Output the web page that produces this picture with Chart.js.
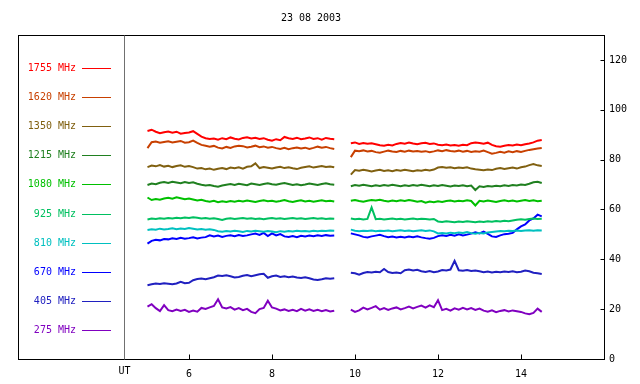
<!DOCTYPE html>
<html>
<head>
<meta charset="utf-8">
<script src="https://cdn.jsdelivr.net/npm/chart.js@4.4.1/dist/chart.umd.min.js"></script>
<style>
  html, body { margin: 0; padding: 0; background: #fff; }
  canvas { display: block; }
</style>
</head>
<body>
<canvas id="chart" width="640" height="384"></canvas>
<script>
// ─── DATA ────────────────────────────────────────────────────
const TITLE = '23 08 2003';
const X_LABEL = 'UT';
const X_TICKS = [6, 8, 10, 12, 14];
const Y_TICKS = [0, 20, 40, 60, 80, 100, 120];

// observation times (hours UT), before and after the break
const T_AM = [5.0, 5.1, 5.2, 5.3, 5.4, 5.5, 5.6, 5.7, 5.8, 5.9,
    6.0, 6.1, 6.2, 6.3, 6.4, 6.5, 6.6, 6.7, 6.8, 6.9,
    7.0, 7.1, 7.2, 7.3, 7.4, 7.5, 7.6, 7.7, 7.8, 7.9,
    8.0, 8.1, 8.2, 8.3, 8.4, 8.5, 8.6, 8.7, 8.8, 8.9,
    9.0, 9.1, 9.2, 9.3, 9.4, 9.5];
const T_PM = [9.9,
    10.0, 10.1, 10.2, 10.3, 10.4, 10.5, 10.6, 10.7, 10.8, 10.9,
    11.0, 11.1, 11.2, 11.3, 11.4, 11.5, 11.6, 11.7, 11.8, 11.9,
    12.0, 12.1, 12.2, 12.3, 12.4, 12.5, 12.6, 12.7, 12.8, 12.9,
    13.0, 13.1, 13.2, 13.3, 13.4, 13.5, 13.6, 13.7, 13.8, 13.9,
    14.0, 14.1, 14.2, 14.3, 14.4, 14.5];

const mhz1755am = [91.5, 92.0, 91.2, 90.6, 91.0, 91.3, 90.8, 91.2, 90.4, 90.7,
    90.9, 91.4, 90.3, 89.2, 88.6, 88.3, 88.5, 88.0, 88.6, 88.2,
    88.9, 88.4, 88.1, 88.7, 89.0, 88.5, 88.8, 88.3, 88.6, 88.0,
    87.6, 88.2, 87.8, 89.1, 88.6, 88.3, 88.8, 88.2, 88.5, 88.9,
    88.3, 88.6, 88.0, 88.7, 88.4, 88.2];
const mhz1755pm = [86.6,
    86.9, 86.3, 86.7, 86.4, 86.6, 86.2, 85.8, 85.6, 86.0, 85.7,
    86.3, 86.7, 86.4, 86.9, 86.5, 86.2, 86.6, 86.8, 86.3, 86.5,
    86.0, 85.8, 86.1, 85.7, 85.9, 85.6, 86.0, 85.8, 86.6, 86.9,
    86.7, 86.4, 86.8, 85.9, 85.4, 85.2, 85.6, 85.9, 85.7, 86.1,
    85.8, 86.2, 86.5, 86.9, 87.6, 87.9];

const mhz1620am = [84.6, 87.0, 87.3, 86.8, 87.1, 87.4, 86.9, 87.2, 87.5, 86.8,
    87.0, 87.6, 86.7, 85.9, 85.6, 85.2, 85.5, 84.8, 84.5, 85.1,
    84.7, 85.3, 85.6, 85.4, 84.9, 85.2, 85.6, 85.0, 85.3, 84.8,
    85.1, 84.6, 84.3, 84.7, 84.2, 84.6, 84.9, 84.5, 84.8, 84.3,
    84.7, 85.2, 84.8, 85.1, 84.6, 84.3];
const mhz1620pm = [81.0,
    83.6, 83.4, 83.7, 83.3, 83.5, 83.0, 82.8, 83.2, 83.6, 83.3,
    83.1, 83.5, 83.2, 83.6, 83.3, 83.5, 83.2, 83.4, 83.0, 83.3,
    83.7, 83.4, 83.8, 83.5, 83.3, 83.6, 83.2, 83.5, 83.1, 83.4,
    83.2, 83.6, 83.0, 82.4, 82.7, 83.1, 82.8, 83.3, 83.0, 83.4,
    83.1, 83.5, 83.9, 84.2, 84.5, 84.7];

const mhz1350am = [77.0, 77.6, 77.3, 77.8, 77.2, 77.5, 77.0, 77.4, 77.7, 77.1,
    77.4, 77.0, 76.4, 76.6, 76.1, 76.4, 75.9, 76.3, 76.6, 76.2,
    76.8, 76.5, 76.9, 76.4, 77.1, 77.3, 78.5, 76.6, 77.0, 76.7,
    76.4, 76.8, 77.1, 76.6, 76.9, 76.5, 76.2, 76.7, 77.0, 77.3,
    76.8, 77.1, 77.4, 77.0, 77.2, 76.9];
const mhz1350pm = [74.0,
    75.8, 75.5, 75.9, 75.6, 75.2, 75.6, 75.9, 75.4, 75.7, 75.3,
    75.8, 75.5, 75.9, 75.6, 75.3, 75.7, 75.5, 75.9, 75.6, 76.0,
    76.8, 77.0, 76.7, 76.9, 76.5, 76.8, 76.6, 76.9, 76.4, 76.1,
    75.9, 75.7, 76.0, 75.8, 76.3, 76.6, 76.2, 76.5, 76.8, 76.4,
    76.9, 77.2, 77.8, 78.2, 77.7, 77.4];

const mhz1215am = [69.8, 70.4, 70.1, 70.7, 71.0, 70.6, 71.1, 70.8, 70.5, 71.0,
    70.6, 70.9, 70.3, 69.9, 69.6, 69.8, 69.4, 69.1, 69.6, 69.9,
    70.2, 69.8, 70.3, 70.0, 69.7, 70.4, 70.1, 69.8, 70.2, 70.5,
    70.1, 69.9, 70.3, 70.6, 70.2, 69.8, 70.1, 69.7, 70.0, 70.4,
    70.1, 69.8, 70.2, 70.5, 70.1, 69.9];
const mhz1215pm = [69.3,
    69.8, 69.5, 69.9, 69.6, 69.3, 69.7, 69.4, 69.8, 69.5, 69.9,
    69.6, 69.3, 69.7, 69.4, 69.8, 69.5, 69.9, 69.6, 69.3, 69.7,
    69.4, 69.8, 69.5, 69.2, 69.6, 69.4, 69.7, 69.3, 69.6, 67.8,
    69.3, 69.0, 69.4, 69.2, 69.5, 69.3, 69.7, 69.4, 69.8, 69.6,
    70.0, 69.8, 70.3, 70.9, 71.1, 70.6];

const mhz1080am = [64.8, 63.8, 64.2, 63.9, 64.4, 64.7, 64.3, 64.9, 64.5, 64.1,
    64.4, 64.0, 63.6, 63.9, 63.4, 63.1, 63.5, 62.9, 63.3, 63.0,
    63.4, 63.1, 63.5, 63.2, 63.6, 63.3, 63.0, 63.4, 63.7, 63.3,
    63.5, 63.1, 63.4, 63.8, 63.3, 63.0, 63.4, 63.7, 63.2, 63.5,
    63.1, 63.4, 63.7, 63.3, 63.5, 63.2];
const mhz1080pm = [63.5,
    63.8, 63.4, 63.1, 63.5, 63.8, 63.6, 63.9, 63.5, 63.2, 63.6,
    63.3, 63.7, 63.4, 63.8, 63.5, 63.1, 63.4, 62.7, 63.2, 62.9,
    63.3, 63.0, 63.4, 63.6, 63.2, 63.5, 63.3, 63.7, 63.4, 61.6,
    63.5, 63.2, 63.6, 63.3, 63.0, 63.4, 63.7, 63.3, 63.6, 63.2,
    63.5, 63.8, 63.4, 63.7, 63.3, 63.5];

const mhz925am = [56.0, 56.4, 56.2, 56.5, 56.3, 56.6, 56.4, 56.7, 56.5, 56.8,
    56.6, 56.9, 56.7, 56.4, 56.6, 56.3, 56.5, 56.2, 55.8, 56.3,
    56.5, 56.2, 56.4, 56.6, 56.3, 56.5, 56.2, 56.4, 56.1, 56.4,
    56.6, 56.3, 56.5, 56.2, 56.4, 56.6, 56.3, 56.5, 56.2, 56.4,
    56.6, 56.3, 56.5, 56.2, 56.4, 56.3];
const mhz925pm = [56.4,
    56.1, 56.3, 56.0, 56.2, 60.8, 56.1, 56.3, 56.0, 56.2, 56.4,
    56.1, 56.3, 56.0, 56.2, 56.4, 56.1, 56.3, 56.2, 56.0, 56.2,
    55.2, 55.0, 55.3, 55.1, 54.9, 55.2, 55.0, 55.3, 55.1, 54.9,
    55.2, 55.0, 55.3, 55.1, 55.4, 55.2, 55.5, 55.3, 55.6, 55.9,
    56.1, 55.9, 56.2, 56.4, 56.2, 56.3];

const mhz810am = [51.8, 52.1, 51.9, 52.3, 52.0, 52.2, 52.5, 52.1, 52.4, 52.2,
    52.6, 52.3, 52.0, 52.2, 51.9, 52.1, 51.8, 51.3, 51.1, 51.4,
    51.2, 51.5, 51.3, 51.0, 51.4, 51.2, 51.5, 51.3, 51.1, 51.4,
    51.2, 50.9, 51.3, 51.1, 51.4, 51.2, 51.5, 51.3, 51.4, 51.2,
    51.5, 51.3, 51.5, 51.4, 51.6, 51.5];
const mhz810pm = [51.9,
    51.5, 51.3, 51.5, 51.4, 51.6, 51.3, 51.5, 51.4, 51.6, 51.3,
    51.5, 51.7, 51.4, 51.6, 51.3, 51.5, 51.7, 51.4, 51.6, 51.2,
    50.4, 50.6, 50.4, 50.7, 50.5, 50.8, 50.6, 50.9, 50.5, 50.3,
    50.6, 50.4, 50.8, 51.0, 51.2, 51.4, 51.3, 51.5, 51.4, 51.6,
    51.4, 51.6, 51.7, 51.5, 51.7, 51.6];

const mhz670am = [46.3, 47.4, 47.8, 47.6, 48.1, 48.0, 48.4, 48.2, 48.6, 48.3,
    48.5, 48.8, 48.4, 48.7, 48.9, 49.6, 49.2, 49.5, 49.0, 49.4,
    49.6, 49.3, 49.7, 49.4, 49.6, 50.0, 50.3, 49.8, 50.6, 49.3,
    50.4, 49.6, 50.1, 49.2, 49.0, 49.3, 48.9, 49.4, 49.2, 49.5,
    49.3, 49.6, 49.4, 49.7, 49.5, 49.6];
const mhz670pm = [50.4,
    50.0, 49.6, 49.0, 48.8, 49.2, 49.5, 49.8, 49.3, 48.9, 49.1,
    48.8, 49.0, 48.8, 49.1, 48.9, 49.2, 48.8, 48.5, 48.3, 48.6,
    49.3, 49.6, 49.4, 49.8, 49.5, 50.0, 49.6, 49.9, 50.3, 50.8,
    50.4, 51.1, 50.2, 49.2, 49.0, 49.6, 50.1, 50.3, 50.6, 52.0,
    53.2, 54.0, 55.6, 56.4, 57.9, 57.2];

const mhz405am = [29.6, 30.0, 30.3, 30.1, 30.4, 30.2, 30.0, 30.3, 31.0, 30.4,
    30.6, 31.6, 32.1, 32.3, 32.0, 32.4, 32.8, 33.5, 33.3, 33.6,
    33.2, 32.7, 32.9, 33.4, 33.7, 33.2, 33.6, 34.0, 34.2, 32.6,
    33.2, 33.5, 32.9, 33.2, 32.8, 33.1, 32.7, 32.5, 32.8, 32.4,
    31.9, 31.7, 32.0, 32.4, 32.2, 32.4];
const mhz405pm = [34.6,
    34.4, 33.8, 34.5, 34.9, 34.7, 35.0, 34.8, 36.1, 34.9, 34.5,
    34.7, 34.4, 35.6, 35.9, 35.5, 35.8, 35.2, 34.9, 35.3, 34.8,
    35.1, 35.7, 35.5, 35.9, 39.4, 35.6, 35.4, 35.7, 35.3, 35.5,
    35.2, 34.8, 35.1, 34.7, 35.0, 34.8, 35.1, 34.9, 35.2, 34.8,
    35.0, 35.5, 35.2, 34.6, 34.4, 34.1];

const mhz275am = [21.0, 22.0, 20.4, 19.2, 21.6, 19.6, 19.2, 19.8, 19.3, 19.7,
    18.9, 19.4, 19.0, 20.5, 20.1, 20.7, 21.3, 24.0, 20.7, 20.3,
    20.8, 19.8, 20.4, 19.6, 20.1, 18.9, 18.4, 20.0, 20.5, 23.4,
    20.7, 20.2, 19.5, 19.9, 19.3, 19.7, 19.2, 20.1, 19.4, 19.9,
    19.3, 19.7, 19.2, 19.6, 19.1, 19.4];
const mhz275pm = [19.8,
    18.9, 19.5, 20.6, 19.9, 20.5, 21.2, 19.8, 20.4, 19.7, 20.3,
    20.7, 19.9, 20.4, 21.0, 20.3, 20.9, 21.4, 20.6, 21.5, 20.8,
    23.6, 19.6, 20.1, 19.4, 20.3, 19.8, 20.5, 19.9, 20.4, 19.7,
    20.2, 19.4, 19.0, 19.5, 18.8, 19.3, 19.6, 19.1, 19.5, 19.2,
    18.9, 18.3, 18.0, 18.5, 20.2, 18.9];

const SERIES = [
    { label: '1755 MHz', color: '#ff0000', am: mhz1755am, pm: mhz1755pm },
    { label: '1620 MHz', color: '#c84000', am: mhz1620am, pm: mhz1620pm },
    { label: '1350 MHz', color: '#806010', am: mhz1350am, pm: mhz1350pm },
    { label: '1215 MHz', color: '#208020', am: mhz1215am, pm: mhz1215pm },
    { label: '1080 MHz', color: '#00c000', am: mhz1080am, pm: mhz1080pm },
    { label: '925 MHz',  color: '#00c060', am: mhz925am,  pm: mhz925pm },
    { label: '810 MHz',  color: '#00c0c0', am: mhz810am,  pm: mhz810pm },
    { label: '670 MHz',  color: '#0000ff', am: mhz670am,  pm: mhz670pm },
    { label: '405 MHz',  color: '#2020c0', am: mhz405am,  pm: mhz405pm },
    { label: '275 MHz',  color: '#8000c0', am: mhz275am,  pm: mhz275pm }
];

// x range of the whole frame; the legend sits left of SPLIT_AT
const X_MIN = 1.88;
const X_MAX = 16;
const SPLIT_AT = 4.43;
const GAP_AT = 9.7;

const FONT = "'DejaVu Sans Mono', monospace";
Chart.defaults.font.family = FONT;
Chart.defaults.font.size = 10;
Chart.defaults.color = '#000';


// ─── HELPERS ─────────────────────────────────────────────────

// both runs of one frequency, with a null in between so the line breaks
function toPoints(s) {
    const a = T_AM.map((t, i) => ({ x: t, y: s.am[i] }));
    const b = T_PM.map((t, i) => ({ x: t, y: s.pm[i] }));
    return a.concat([{ x: GAP_AT, y: null }], b);
}

// box, inward ticks, separator, UT label and the colour key on the left
const framePlugin = {
    id: 'frame',
    afterDraw(chart) {
        const { ctx, chartArea: ca } = chart;
        const xs = chart.scales.x;
        const ys = chart.scales.y;
        const L = Math.round(ca.left) + 0.5, R = Math.round(ca.right) + 0.5;
        const T = Math.round(ca.top) + 0.5, B = Math.round(ca.bottom) + 0.5;
        ctx.save();

        ctx.strokeStyle = '#000';
        ctx.lineWidth = 1;
        ctx.strokeRect(L, T, R - L, B - T);

        // inward tick marks, placed by the library's scales
        ctx.beginPath();
        xs.ticks.forEach(t => {
            const px = Math.round(xs.getPixelForValue(t.value)) + 0.5;
            ctx.moveTo(px, B);
            ctx.lineTo(px, B - 5);
        });
        ys.ticks.forEach(t => {
            const py = Math.round(ys.getPixelForValue(t.value)) + 0.5;
            ctx.moveTo(R, py);
            ctx.lineTo(R - 4, py);
        });
        ctx.stroke();

        const sx = Math.round(xs.getPixelForValue(SPLIT_AT)) + 0.5;
        ctx.strokeStyle = '#707070';
        ctx.beginPath();
        ctx.moveTo(sx, T);
        ctx.lineTo(sx, B);
        ctx.stroke();

        ctx.font = '10px ' + FONT;
        ctx.fillStyle = '#000';
        ctx.textAlign = 'center';
        ctx.textBaseline = 'middle';
        ctx.fillText(X_LABEL, sx, B + 12);

        ctx.textAlign = 'right';
        SERIES.forEach((s, i) => {
            const y = Math.round(ca.top + 32.5 + i * 29.2) + 0.5;
            ctx.fillStyle = s.color;
            ctx.fillText(s.label, 76, y);
            ctx.strokeStyle = s.color;
            ctx.beginPath();
            ctx.moveTo(82, y);
            ctx.lineTo(111, y);
            ctx.stroke();
        });
        ctx.restore();
    }
};


// ─── CHART ───────────────────────────────────────────────────

new Chart(document.getElementById('chart'), {
    type: 'line',
    data: {
        datasets: SERIES.map(s => ({
            label: s.label,
            data: toPoints(s),
            borderColor: s.color,
            backgroundColor: s.color,
            borderWidth: 2,
            pointRadius: 0,
            tension: 0,
            spanGaps: false
        }))
    },
    options: {
        responsive: false,
        animation: false,
        devicePixelRatio: 1,
        layout: { padding: { left: 18, right: 0, top: 0, bottom: 0 } },
        plugins: {
            legend: { display: false },
            tooltip: { enabled: false },
            title: {
                display: true,
                text: TITLE,
                fullSize: false,
                color: '#000',
                font: { size: 10, weight: 'normal', family: FONT },
                padding: { top: 12, bottom: 11 }
            }
        },
        scales: {
            x: {
                type: 'linear',
                min: X_MIN,
                max: X_MAX,
                afterBuildTicks: s => { s.ticks = X_TICKS.map(v => ({ value: v })); },
                afterFit: s => { s.height = 25; },
                grid: { drawOnChartArea: false, drawTicks: false },
                border: { color: '#000' },
                ticks: { color: '#000', padding: 9, maxRotation: 0, autoSkip: false }
            },
            y: {
                position: 'right',
                min: 0,
                max: 130,
                afterBuildTicks: s => { s.ticks = Y_TICKS.map(v => ({ value: v })); },
                afterFit: s => { s.width = 36; },
                grid: { drawOnChartArea: false, drawTicks: false },
                border: { color: '#000' },
                ticks: { color: '#000', padding: 5 }
            }
        }
    },
    plugins: [framePlugin]
});
</script>
</body>
</html>
